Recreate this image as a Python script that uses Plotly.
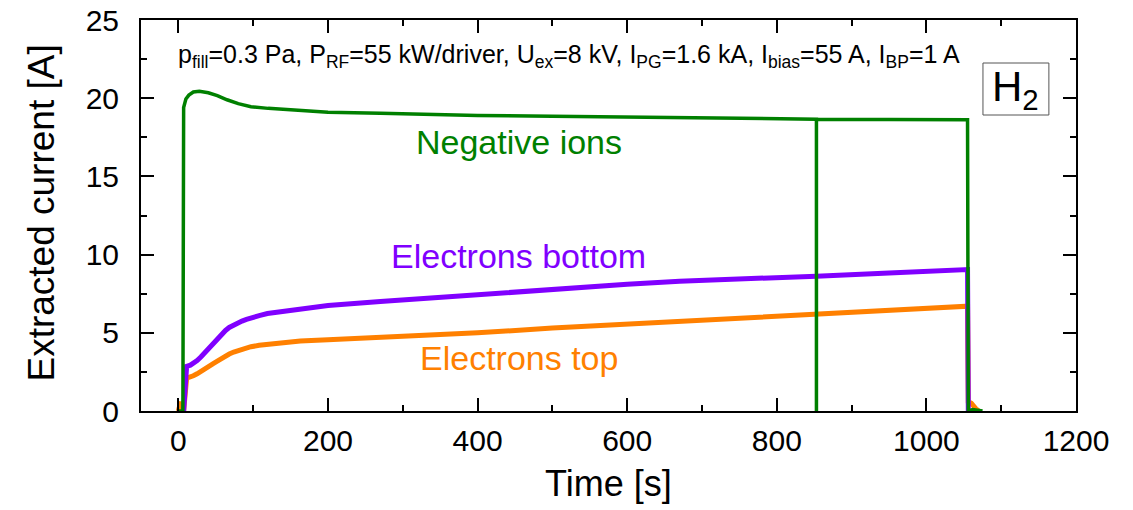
import plotly.graph_objects as go

# ---------------- data ----------------
neg_t = [0, 6, 7, 8, 10, 14, 20, 28, 40, 52, 65, 80, 97, 120, 163, 200, 270, 300, 400, 500, 600, 670, 800, 853, 853, 853, 950, 1055, 1056, 1062, 1075]
neg_i = [0, 0, 19.4, 19.7, 19.95, 20.2, 20.4, 20.45, 20.35, 20.17, 19.9, 19.65, 19.46, 19.35, 19.2, 19.1, 19.04, 19.0, 18.9, 18.84, 18.78, 18.72, 18.68, 18.66, 0, 18.66, 18.64, 18.62, 0, 0.1, 0]

eb_t = [7, 11, 16, 20, 25, 30, 35, 41, 46, 52, 57, 63, 68, 74, 80, 85, 91, 97, 108, 119, 130, 141, 163, 200, 270, 400, 500, 600, 670, 800, 853, 950, 1055, 1056]
eb_i = [0, 2.85, 2.93, 3.05, 3.22, 3.45, 3.72, 4.05, 4.35, 4.65, 4.92, 5.15, 5.34, 5.5, 5.64, 5.75, 5.86, 5.96, 6.1, 6.23, 6.31, 6.38, 6.53, 6.75, 7.0, 7.45, 7.8, 8.1, 8.3, 8.5, 8.62, 8.82, 9.04, 0]

et_t = [0, 3, 4, 7, 11, 16, 20, 25, 30, 35, 41, 46, 52, 57, 63, 68, 74, 80, 85, 91, 97, 108, 119, 141, 163, 200, 270, 400, 500, 600, 670, 800, 853, 950, 1055, 1056, 1060, 1066, 1070]
et_i = [0, 0.6, 0, 0, 2.1, 2.16, 2.25, 2.38, 2.55, 2.7, 2.85, 3.02, 3.19, 3.35, 3.5, 3.64, 3.77, 3.88, 3.97, 4.05, 4.11, 4.2, 4.26, 4.36, 4.47, 4.55, 4.68, 5.0, 5.3, 5.55, 5.74, 6.05, 6.17, 6.42, 6.7, 0.6, 0.5, 0.15, 0]

x_range = [-50, 1200]
y_range = [0, 25]
x_title = "Time [s]"
y_title = "Extracted current [A]"
cond_text = ("p<sub>fill</sub>=0.3 Pa, P<sub>RF</sub>=55 kW/driver, U<sub>ex</sub>=8 kV, "
             "I<sub>PG</sub>=1.6 kA, I<sub>bias</sub>=55 A, I<sub>BP</sub>=1 A")
gas_label = "H<sub>2</sub>"
series_labels = ["Negative ions", "Electrons bottom", "Electrons top"]

GREEN = "#008000"
PURPLE = "#8000FF"
ORANGE = "#FF8000"
FONT = "Liberation Sans, Arial, sans-serif"

fig = go.Figure()
fig.add_trace(go.Scatter(x=et_t, y=et_i, mode="lines", line=dict(color=ORANGE, width=5), showlegend=False))
fig.add_trace(go.Scatter(x=eb_t, y=eb_i, mode="lines", line=dict(color=PURPLE, width=5), showlegend=False))
fig.add_trace(go.Scatter(x=neg_t, y=neg_i, mode="lines", line=dict(color=GREEN, width=3.5), showlegend=False))

axis_common = dict(
    showline=True, linecolor="black", linewidth=2, mirror="ticks",
    ticks="inside", ticklen=13, tickwidth=2, tickcolor="black",
    showgrid=False, zeroline=False, automargin=False, ticklabeloverflow="allow",
    tickfont=dict(family=FONT, size=30, color="black"),
)

fig.update_xaxes(range=x_range, dtick=200, tick0=0,
                 minor=dict(ticks="inside", ticklen=6, tickwidth=2, tickcolor="black", dtick=100, showgrid=False),
                 ticklabelstandoff=2, **axis_common)
fig.update_yaxes(range=y_range, dtick=5, tick0=0,
                 minor=dict(ticks="inside", ticklen=6, tickwidth=2, tickcolor="black", dtick=2.5, showgrid=False),
                 ticklabelstandoff=14, **axis_common)

# axis titles as annotations
fig.add_annotation(xref="paper", yref="paper", x=0.5, y=0, yshift=-72, text=x_title, showarrow=False,
                   font=dict(family=FONT, size=36, color="black"), xanchor="center", yanchor="middle")
fig.add_annotation(xref="paper", yref="paper", x=0, xshift=-99, y=0.505, text=y_title, showarrow=False,
                   textangle=-90, font=dict(family=FONT, size=37, color="black"), xanchor="center", yanchor="middle")

# text labels for series (placed in data coords)
fig.add_annotation(x=455, y=17.2, text=series_labels[0], showarrow=False,
                   font=dict(family=FONT, size=34, color=GREEN), xanchor="center", yanchor="middle")
fig.add_annotation(x=455, y=9.9, text=series_labels[1], showarrow=False,
                   font=dict(family=FONT, size=34, color=PURPLE), xanchor="center", yanchor="middle")
fig.add_annotation(x=455, y=3.4, text=series_labels[2], showarrow=False,
                   font=dict(family=FONT, size=34, color=ORANGE), xanchor="center", yanchor="middle")

# conditions text
fig.add_annotation(xref="paper", yref="paper", x=0.037, y=0.908, text=cond_text, showarrow=False,
                   font=dict(family=FONT, size=25, color="black"), xanchor="left", yanchor="middle")

# gas label box
fig.add_shape(type="rect", xref="paper", yref="paper", x0=0.9005, x1=0.971, y0=0.757, y1=0.890,
              line=dict(color="#555555", width=1), fillcolor="rgba(0,0,0,0)")
fig.add_annotation(xref="paper", yref="paper", x=0.9357, y=0.823, text=gas_label, showarrow=False,
                   font=dict(family=FONT, size=42, color="black"), xanchor="center", yanchor="middle")

fig.update_layout(
    width=1133, height=510,
    margin=dict(l=141, r=57, t=20, b=99),
    paper_bgcolor="white", plot_bgcolor="white",
    font=dict(family=FONT, color="black"),
)

fig.write_html("out.html", config={"displayModeBar": False},
               post_script="document.body.style.margin='0';document.body.style.overflow='hidden';")
